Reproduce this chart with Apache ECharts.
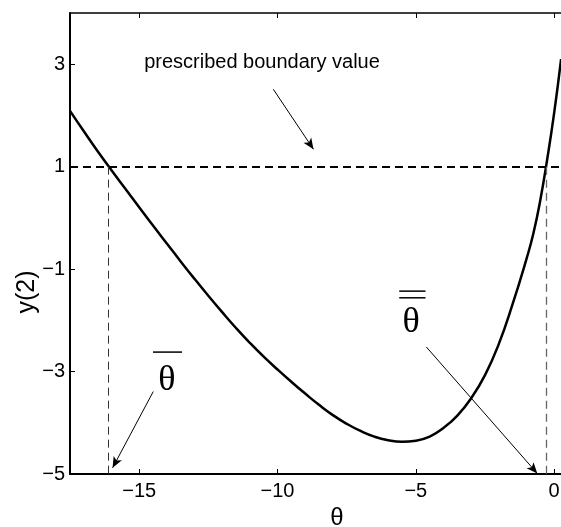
<!DOCTYPE html>
<html>
<head>
<meta charset="utf-8">
<script src="https://cdn.jsdelivr.net/npm/echarts@6/dist/echarts.min.js"></script>
<style>
  html, body { margin: 0; padding: 0; background: #fff; }
  #chart { width: 561px; height: 527px; }
</style>
</head>
<body>
<div id="chart"></div>
<script>
// curve y(2) as a function of theta
const thetaVals = [-17.5, -17, -16.5, -16, -15.5, -15, -14.5, -14, -13.5, -13, -12.5, -12, -11.5, -11, -10.5, -10,
  -9.5, -9, -8.5, -8, -7.5, -7, -6.5, -6, -5.5, -5, -4.5, -4, -3.5, -3, -2.5, -2, -1.5, -1, -0.75, -0.5, -0.25, 0, 0.25];
const y2Vals = [2.09, 1.69, 1.30, 0.93, 0.57, 0.21, -0.15, -0.50, -0.85, -1.19, -1.52, -1.84, -2.15, -2.44, -2.71, -2.96,
  -3.20, -3.43, -3.65, -3.85, -4.02, -4.16, -4.27, -4.34, -4.37, -4.35, -4.27, -4.10, -3.86, -3.52, -3.07, -2.46, -1.68, -0.80, -0.30, 0.35, 1.15, 2.05, 3.10];

const xTicks = [-15, -10, -5, 0];
const yTicks = [-5, -3, -1, 1, 3];

const boundaryValue = 1;
const thetaBar = -16.1;     // left crossing
const thetaBarBar = -0.29;  // right crossing

const FONT = '"Liberation Sans", Arial, Helvetica, sans-serif';
const SERIF = '"Liberation Serif", "Times New Roman", serif';
const minusFmt = (v) => String(v).replace('-', '\u2212');

const chart = echarts.init(document.getElementById('chart'), null, { renderer: 'canvas' });

const curveData = thetaVals.map((t, i) => [t, y2Vals[i]]);

const arrowEnd = (coord) => ({ coord: coord, symbol: 'arrow', symbolSize: [7, 11] });
const thinLine = { color: '#000', width: 1, type: 'solid' };

const option = {
  animation: false,
  backgroundColor: '#fff',
  grid: {
    left: 70,
    right: -7,
    top: 13,
    bottom: 53,
    outerBoundsMode: 'none',
    containLabel: false
  },
  xAxis: [
    {
      type: 'value',
      position: 'bottom',
      min: -17.5,
      max: 0.5,
      splitLine: { show: false },
      axisLine: { onZero: false, lineStyle: { color: '#000', width: 2 } },
      axisTick: { inside: true, length: 5, customValues: xTicks, lineStyle: { color: '#000', width: 1 } },
      axisLabel: { customValues: xTicks, formatter: minusFmt, color: '#000', fontSize: 20, fontFamily: FONT, margin: 7 }
    },
    {
      type: 'value',
      position: 'top',
      min: -17.5,
      max: 0.5,
      splitLine: { show: false },
      axisLine: { onZero: false, lineStyle: { color: '#000', width: 1.5 } },
      axisTick: { inside: true, length: 5, customValues: xTicks, lineStyle: { color: '#000', width: 1 } },
      axisLabel: { show: false }
    }
  ],
  yAxis: {
    type: 'value',
    min: -5,
    max: 4,
    splitLine: { show: false },
    axisLine: { onZero: false, lineStyle: { color: '#000', width: 2 } },
    axisTick: { inside: true, length: 5, customValues: yTicks, lineStyle: { color: '#000', width: 1 } },
    axisLabel: { customValues: yTicks, formatter: minusFmt, color: '#000', fontSize: 20, fontFamily: FONT, margin: 5 }
  },
  series: [
    {
      type: 'line',
      data: curveData,
      smooth: 0.5,
      showSymbol: false,
      clip: true,
      silent: true,
      lineStyle: { color: '#000', width: 2.5 },
      emphasis: { disabled: true },
      markLine: {
        silent: true,
        symbol: ['none', 'none'],
        label: { show: false },
        emphasis: { disabled: true },
        data: [
          { yAxis: boundaryValue, lineStyle: { color: '#000', width: 2, type: [8, 5] } },
          [
            { coord: [thetaBar, boundaryValue], lineStyle: { color: '#333', width: 1, type: [8, 5] } },
            { coord: [thetaBar, -5] }
          ],
          [
            { coord: [thetaBarBar, boundaryValue], lineStyle: { color: '#666', width: 1.3, type: [8, 5] } },
            { coord: [thetaBarBar, -5] }
          ],
          // annotation arrows
          [{ coord: [-10.15, 2.51], lineStyle: thinLine }, arrowEnd([-8.70, 1.34])],
          [{ coord: [-14.49, -3.39], lineStyle: thinLine }, arrowEnd([-15.96, -4.88])],
          [{ coord: [-4.62, -2.52], lineStyle: thinLine }, arrowEnd([-0.61, -4.99])]
        ]
      }
    }
  ]
};

chart.setOption(option);

// annotations placed in data coordinates
const p = (x, y) => chart.convertToPixel({ xAxisIndex: 0, yAxisIndex: 0 }, [x, y]);
const hline = (x1, x2, y, w) => {
  const a = p(x1, y), b = p(x2, y);
  return { type: 'line', silent: true, shape: { x1: a[0], y1: a[1], x2: b[0], y2: b[1] }, style: { stroke: '#000', lineWidth: w } };
};
const text = (pos, str, size, family, extra) => Object.assign({
  type: 'text', silent: true, x: pos[0], y: pos[1],
  style: Object.assign({
    text: str, fontSize: size, fontFamily: family, fill: '#000', align: 'center', verticalAlign: 'middle'
  }, (extra && extra.style) || {})
}, (extra && extra.el) || {});

chart.setOption({
  graphic: [
    text(p(-14.82, 3.03), 'prescribed boundary value', 20, FONT, { style: { align: 'left' } }),
    text(p(-14.0, -3.17), '\u03b8', 36, SERIF),
    hline(-14.5, -13.45, -2.62, 1.5),
    text(p(-5.17, -2.04), '\u03b8', 36, SERIF),
    hline(-5.6, -4.65, -1.43, 1.5),
    hline(-5.6, -4.65, -1.56, 1.5),
    text([337, 518], '\u03b8', 24, FONT),
    text([27, 292], 'y(2)', 25, FONT, { el: { rotation: Math.PI / 2 } })
  ]
});
</script>
</body>
</html>
